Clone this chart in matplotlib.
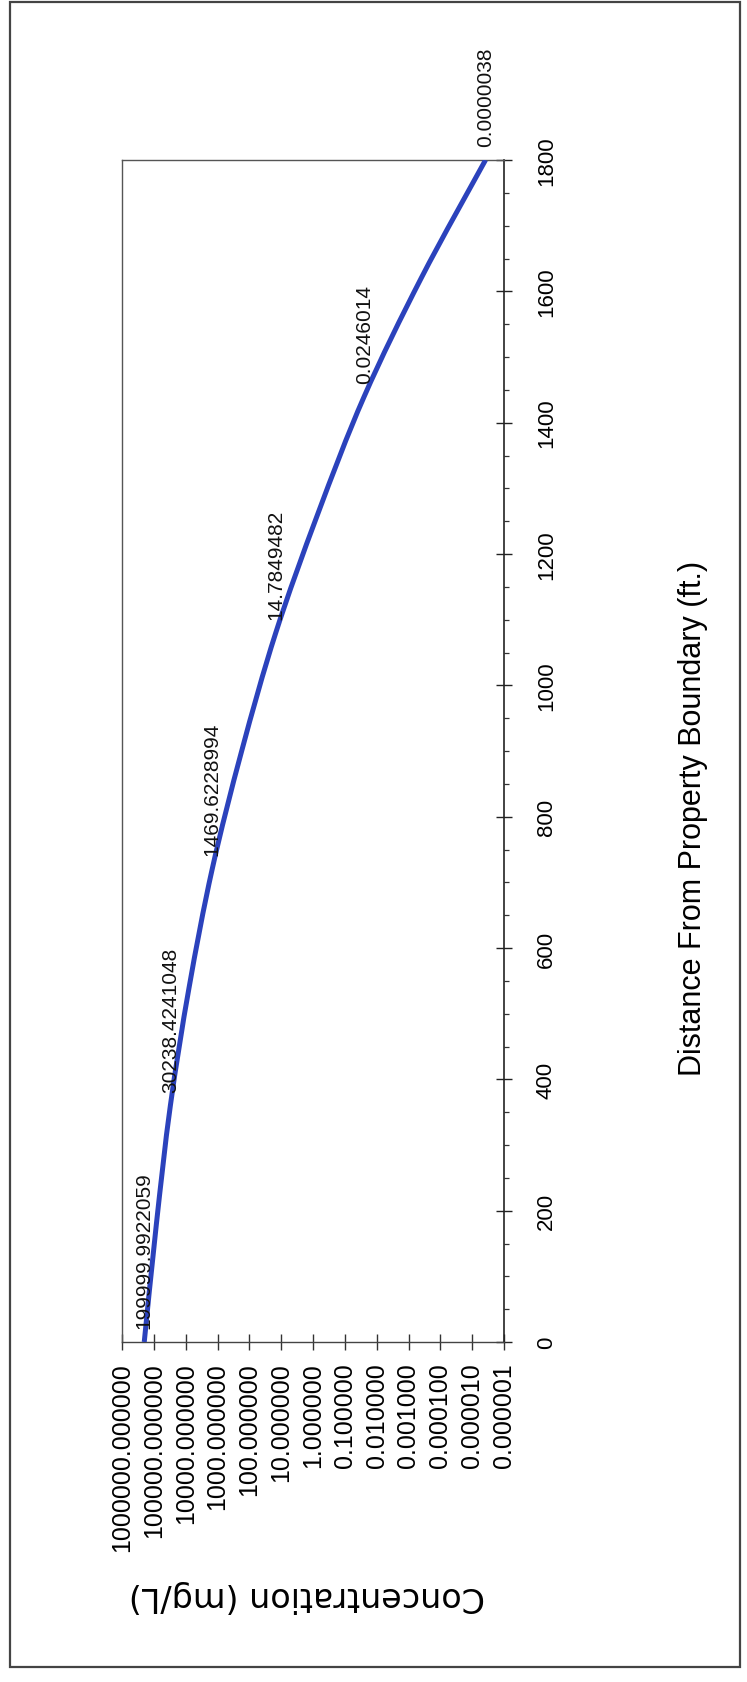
import matplotlib
matplotlib.use("Agg")
import numpy as np
import matplotlib.pyplot as plt
from matplotlib.ticker import FixedLocator, FuncFormatter, MultipleLocator, NullLocator
from matplotlib.patches import Rectangle, PathPatch
from matplotlib.path import Path

# ---- data ----
distance_ft = [0, 180, 360, 540, 720, 900, 1080, 1260, 1440, 1620, 1800]
concentration = [199999.9922059, 8.3e4, 30238.4241048, 7.8e3, 1469.6228994,
                 174.0, 14.7849482, 0.72, 0.0246014, 4.0e-4, 0.0000038]

label_distance = [0, 360, 720, 1080, 1440, 1800]
label_value = [199999.9922059, 30238.4241048, 1469.6228994, 14.7849482, 0.0246014, 0.0000038]
label_text = ["199999.9922059", "30238.4241048", "1469.6228994", "14.7849482", "0.0246014", "0.0000038"]

conc_ticks = [1e6, 1e5, 1e4, 1e3, 1e2, 1e1, 1e0, 1e-1, 1e-2, 1e-3, 1e-4, 1e-5, 1e-6]
distance_ticks = [0, 200, 400, 600, 800, 1000, 1200, 1400, 1600, 1800]

x_title = "Concentration (mg/L)"
y_title = "Distance From Property Boundary (ft.)"

# ---- figure ----
W, H = 747, 1683
fig = plt.figure(figsize=(W / 100, H / 100), dpi=100)
fig.patch.set_facecolor("white")

ax_left, ax_right, ax_top, ax_bottom = 122, 504, 161, 1343
ax = fig.add_axes([ax_left / W, 1 - ax_bottom / H,
                   (ax_right - ax_left) / W, (ax_bottom - ax_top) / H])

# smoothed line (Excel-style "smoothed line" rendering: Bezier segments through the points,
# built in log space so the log axis maps it exactly)
u = np.log10(np.asarray(concentration, dtype=float))
v = np.asarray(distance_ft, dtype=float)
P = np.column_stack([u, v])
verts = [P[0]]
codes = [Path.MOVETO]
n = len(P)
for i in range(n - 1):
    p0 = P[i - 1] if i > 0 else P[i]
    p1 = P[i]
    p2 = P[i + 1]
    p3 = P[i + 2] if i + 2 < n else P[i + 1]
    c1 = p1 + (p2 - p0) / 6.0
    c2 = p2 - (p3 - p1) / 6.0
    verts += [c1, c2, p2]
    codes += [Path.CURVE4] * 3
verts = np.array(verts)
verts[:, 0] = 10 ** verts[:, 0]
curve = PathPatch(Path(verts, codes), facecolor="none", edgecolor="#2b42bc",
                  linewidth=3.6, capstyle="butt", zorder=3)
ax.add_patch(curve)

ax.set_xscale("log")
ax.set_xlim(1e6, 1e-6)
ax.set_ylim(0, 1800)

# bottom (concentration) axis
ax.xaxis.set_major_locator(FixedLocator(conc_ticks))
ax.xaxis.set_minor_locator(NullLocator())
ax.xaxis.set_major_formatter(FuncFormatter(lambda val, p: f"{val:.6f}"))
ax.tick_params(axis="x", which="major", direction="inout", length=11, width=1,
               color="#333333", pad=9, labelsize=18, labelrotation=90)
for t in ax.get_xticklabels():
    t.set_fontfamily(["Liberation Sans", "DejaVu Sans"])

# right (distance) axis
ax.yaxis.tick_right()
ax.yaxis.set_major_locator(FixedLocator(distance_ticks))
ax.yaxis.set_minor_locator(MultipleLocator(50))
ax.tick_params(axis="y", which="major", direction="inout", length=12, width=1,
               color="#222222", pad=17, labelsize=16, labelrotation=90)
ax.tick_params(axis="y", which="minor", direction="out", length=3.6, width=0.9,
               color="#333333")
ax.tick_params(axis="y", which="both", left=False, right=True)
for t in ax.get_yticklabels():
    t.set_fontfamily(["Liberation Sans", "DejaVu Sans"])
    t.set_verticalalignment("center")

for side in ("left", "top"):
    ax.spines[side].set_color("#555555")
    ax.spines[side].set_linewidth(1.0)
ax.spines["bottom"].set_color("#444444")
ax.spines["bottom"].set_linewidth(1.0)
ax.spines["right"].set_color("#222222")
ax.spines["right"].set_linewidth(1.2)

# axis titles
ax.set_xlabel(x_title, fontsize=24, family=["DejaVu Sans"], rotation=180)
ax.xaxis.label.set_verticalalignment("center")
ax.xaxis.label.set_horizontalalignment("center")
ax.xaxis.set_label_coords((307 - ax_left) / (ax_right - ax_left),
                          -(1597 - ax_bottom) / (ax_bottom - ax_top))

ax.yaxis.set_label_position("right")
ax.set_ylabel(y_title, fontsize=22, family=["Liberation Sans", "DejaVu Sans"], rotation=90)
ax.yaxis.label.set_rotation_mode("anchor")
ax.yaxis.label.set_verticalalignment("center")
ax.yaxis.label.set_horizontalalignment("center")
ax.yaxis.set_label_coords((693 - ax_left) / (ax_right - ax_left),
                          (ax_bottom - 818) / (ax_bottom - ax_top))

# data labels
for d, val, s in zip(label_distance, label_value, label_text):
    ax.annotate(s, xy=(val, d), xytext=(0, 10), textcoords="offset points",
                rotation=90, ha="center", va="bottom", fontsize=15,
                family=["Liberation Sans", "DejaVu Sans"], color="#111111",
                annotation_clip=False, zorder=4)

# outer border
fig.add_artist(Rectangle((10 / W, 15 / H), (740 - 10) / W, (1680 - 15) / H,
                         transform=fig.transFigure, fill=False,
                         edgecolor="#444444", linewidth=1.6))

fig.savefig("out.png", dpi=100, facecolor="white")
